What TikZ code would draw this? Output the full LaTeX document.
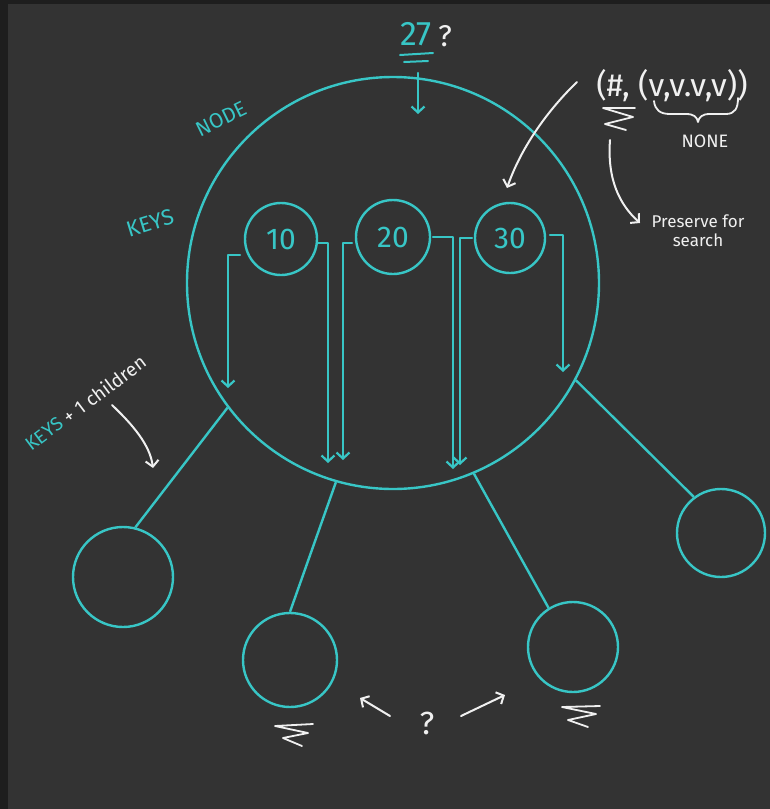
\documentclass[tikz,border=0pt]{standalone}
\usepackage{fontspec}
\setmainfont{Fira Sans}
\usetikzlibrary{arrows.meta}
\definecolor{bgc}{HTML}{333333}
\definecolor{framec}{HTML}{1E1E1E}
\definecolor{cy}{HTML}{38C6C6}
\definecolor{wh}{HTML}{F0F0F0}
\begin{document}
\begin{tikzpicture}[x=1pt,y=-1pt,
  ring/.style={circle,draw=cy,line width=2.4pt,inner sep=0pt},
  cyline/.style={draw=cy,line width=2.4pt},
  keyarrow/.style={draw=cy,line width=2.2pt,line cap=round,line join=round,
    -{Straight Barb[length=6pt,width=13pt,line width=2.2pt]}},
  wharrow/.style={draw=wh,line width=2pt,line cap=round,
    -{Straight Barb[length=6pt,width=13pt,line width=2pt]}},
  scribble/.style={draw=wh,line width=1.8pt,line cap=round,line join=round},
  cytext/.style={text=cy,inner sep=0pt},
  whtext/.style={text=wh,inner sep=0pt}
]
% background and frame
\fill[framec] (0,0) rectangle (770,809);
\fill[bgc] (8,4) rectangle (770,809);
\useasboundingbox (0,0) rectangle (770,809);

% main node
\node[ring,minimum size=412pt] (big) at (393,283) {};
% keys
\node[ring,minimum size=72pt,text=cy,font=\fontsize{30}{30}\selectfont] (k1) at (281,239) {10};
\node[ring,minimum size=74pt,text=cy,font=\fontsize{30}{30}\selectfont] (k2) at (393,237) {20};
\node[ring,minimum size=70pt,text=cy,font=\fontsize{30}{30}\selectfont] (k3) at (510,238) {30};

% children
\node[ring,minimum size=100pt] (c1) at (123,577) {};
\node[ring,minimum size=94pt] (c2) at (290,660) {};
\node[ring,minimum size=90pt] (c3) at (573,647) {};
\node[ring,minimum size=88pt] (c4) at (721,533) {};

\draw[cyline] (big.217.5) -- (c1.76);
\draw[cyline] (big.254.5) -- (c2.90);
\draw[cyline] (big.293) -- (c3.122.7);
\draw[cyline] (big.332) -- (c4.127.6);

% bracket pointers
\coordinate (p1) at (240,255); \coordinate (t1) at (228,388);
\coordinate (p2) at (318,243); \coordinate (t2) at (328,463);
\coordinate (p3) at (352,243); \coordinate (t3) at (343,460);
\coordinate (p4) at (433,237); \coordinate (t4) at (453,469);
\coordinate (p5) at (472,238); \coordinate (t5) at (460,465);
\coordinate (p6) at (550,235); \coordinate (t6) at (563,372);
\draw[keyarrow] (p1) -| (t1);
\draw[keyarrow] (p2) -| (t2);
\draw[keyarrow] (p3) -| (t3);
\draw[keyarrow] (p4) -| (t4);
\draw[keyarrow] (p5) -| (t5);
\draw[keyarrow] (p6) -| (t6);

% labels
\node[cytext,rotate=26,font=\fontsize{21}{21}\selectfont] (lnode) at (221,119) {NODE};
\node[cytext,rotate=17,font=\fontsize{22}{22}\selectfont] (lkeys) at (150,223) {KEYS};

% 27 ?
\node[cytext,font=\fontsize{34}{34}\selectfont] (n27) at (416,34) {27};
\node[whtext,font=\fontsize{30}{30}\selectfont] (q1) at (445,36) {?};
\draw[cyline,line width=2pt,line cap=round] (400,55) -- (433,53);
\draw[cyline,line width=2pt,line cap=round] (404,62) -- (428,61);
\coordinate (a27) at (418,73);
\coordinate (a27t) at (418,114);
\draw[keyarrow] (a27) -- (a27t);

% tuple
\node[whtext,font=\fontsize{32}{32}\selectfont] (tup) at (672,86) {(\#, (v,v.v,v))};
\draw[scribble] (635,108) -- (603,108) -- (633,117) -- (605,124) -- (626,130);
\draw[draw=wh,line width=1.8pt,line cap=round,line join=round]
  (654,101) .. controls (655,110) and (660,114) .. (670,114) -- (686,114)
  .. controls (694,114) and (697,117) .. (698,122)
  .. controls (699,117) and (702,114) .. (710,114) -- (726,114)
  .. controls (735,114) and (738,108) .. (738,98);
\node[whtext,font=\fontsize{18}{18}\selectfont] (none) at (705,141) {NONE};
\node[whtext,font=\fontsize{17}{19}\selectfont,align=center] (pres) at (698,231) {Preserve for\\search};
\coordinate (ps) at (610,140);
\coordinate (pt) at (640,223);
\draw[wharrow] (ps) .. controls (607,180) and (620,205) .. (pt);
\coordinate (ts) at (577,82);
\coordinate (tt) at (507,188);
\draw[wharrow] (ts) .. controls (550,108) and (522,145) .. (tt);

% keys + 1 children
\node[cytext,rotate=37,font=\fontsize{19}{19}\selectfont] (kc1) at (44,434) {KEYS};
\node[whtext,rotate=37,font=\fontsize{19}{19}\selectfont] (kc2) at (104,389) {+ 1 children};
\coordinate (ks) at (112,405);
\coordinate (kt) at (153,468);
\draw[wharrow] (ks) .. controls (133,425) and (150,445) .. (kt);

% bottom question
\node[whtext,font=\fontsize{32}{32}\selectfont] (q2) at (427,723) {?};
\coordinate (ql) at (390,716); \coordinate (qlt) at (360,698);
\coordinate (qr) at (461,716); \coordinate (qrt) at (505,695);
\draw[wharrow] (ql) -- (qlt);
\draw[wharrow] (qr) -- (qrt);
\draw[scribble] (313,724) -- (275,726) -- (308,733) -- (283,738) -- (302,746);
\draw[scribble] (600,706) -- (562,707) -- (596,714) -- (568,720) -- (588,727);
\end{tikzpicture}
\end{document}
